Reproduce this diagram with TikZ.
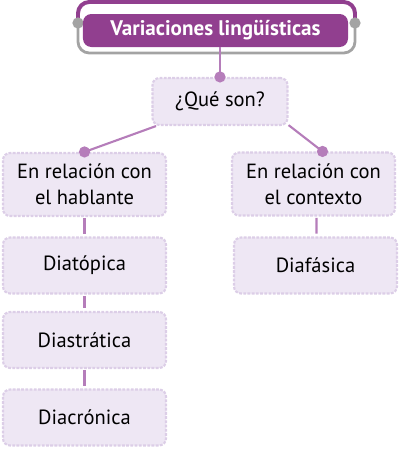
\documentclass[tikz,border=0pt]{standalone}
\usepackage{fontspec}
\setmainfont{PT Sans}
\usetikzlibrary{arrows.meta, positioning}
\usepackage{xcolor}
\definecolor{titlepurple}{HTML}{913F8F}
\definecolor{linkpurple}{HTML}{B57DBA}
\definecolor{boxfill}{HTML}{EEE7F4}
\definecolor{boxedge}{HTML}{DCCEE7}
\definecolor{framegray}{HTML}{A3A3A3}

\begin{document}
\begin{tikzpicture}[x=0.025cm, y=-0.025cm]
	\tikzstyle{concept}=[rectangle, rounded corners=5pt, fill=boxfill, draw=boxedge, line width=1.5pt, dash pattern=on 2pt off 1pt, align=center, font=\fontsize{14.6}{18.5}\selectfont, inner sep=2pt]
	\tikzstyle{wide concept}=[concept, minimum width=4.075cm, minimum height=1.4cm]
	\tikzstyle{high concept}=[concept, minimum width=4.075cm, minimum height=1.575cm]
	\tikzstyle{title}=[rectangle, rounded corners=6pt, fill=titlepurple, text=white, font=\fontsize{15}{18}\selectfont\bfseries, minimum width=6.625cm, minimum height=0.825cm]
	\tikzstyle{link}=[draw=linkpurple, line width=1.5pt]
	\tikzstyle{dot}=[circle, fill=linkpurple, inner sep=0pt, minimum size=8pt]
	\tikzstyle{gdot}=[circle, fill=framegray, inner sep=0pt, minimum size=8pt]

	\useasboundingbox (0,0) rectangle (400,449);

	% title with its frame
	\coordinate (FL) at (78,23);
	\coordinate (FR) at (355,23);
	\draw[titlepurple, line width=2.8pt, rounded corners=8pt] (FL) -- ++(0,-21) -| (FR);
	\draw[framegray, line width=2pt, rounded corners=8pt] (FL) -- ++(0,30) -| (FR);
	\node[gdot] at (FL) {};
	\node[gdot] at (FR) {};
	\node[title] (T) at (215.5,30.5) {Variaciones lingüísticas};

	\node[concept, minimum width=3.375cm, minimum height=1.175cm] (Q) at (220,101.5) {¿Qué son?};

	\node[high concept] (H) at (84.5,184.5) {En relación con\\el hablante};
	\node[wide concept] (H1) at (84.5,265.5) {Diatópica};
	\node[wide concept] (H2) at (84.5,340) {Diastrática};
	\node[wide concept] (H3) at (84.5,417.5) {Diacrónica};

	\node[high concept] (C) at (313.5,184) {En relación con\\el contexto};
	\node[wide concept] (C1) at (315.5,265.5) {Diafásica};

	\path[link] (Q.north |- T.south) -- (Q.north);
	\node[dot] at (Q.north) {};
	\path[link] (Q.201) -- (H.north);
	\node[dot] at (H.north) {};
	\path[link] (Q.341) -- ([xshift=0.225cm]C.north);
	\node[dot] at ([xshift=0.225cm]C.north) {};

	\foreach \a/\b in {H/H1, H1/H2, H2/H3}{
		\path[link] ([yshift=-1pt]\a.south) -- ([yshift=2pt]\b.north);
		}
	\path[link] ([xshift=0.075cm, yshift=-1pt]C.south) -- ([xshift=0.025cm, yshift=2pt]C1.north);
\end{tikzpicture}
\end{document}
